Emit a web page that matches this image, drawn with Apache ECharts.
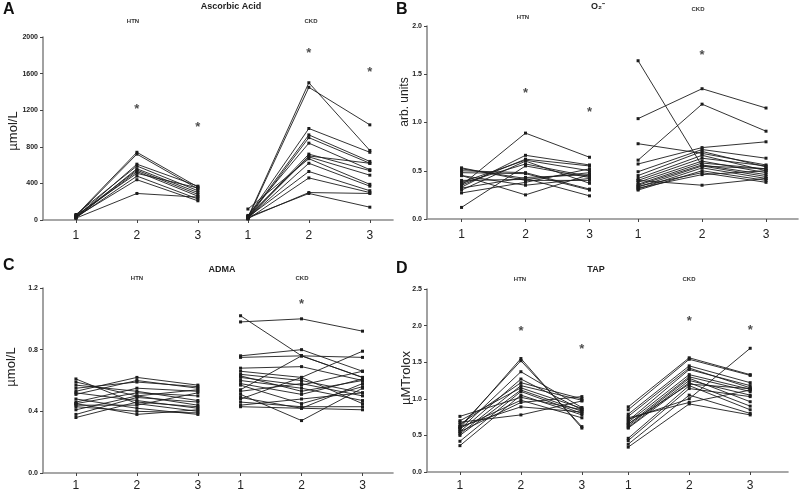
<!DOCTYPE html>
<html><head><meta charset="utf-8">
<script src="https://cdn.jsdelivr.net/npm/echarts@6/dist/echarts.min.js"></script>
<style>html,body{margin:0;padding:0;background:#fff}#c{width:799px;height:491px}</style>
</head><body><div id="c"></div>
<script>
// ---------- DATA ----------
const timeLabels = ['1', '2', '3'];
const groupNames = ['HTN', 'CKD'];

// Panel A: Ascorbic Acid (µmol/L), each row = one subject at times 1,2,3
const ascorbicHTN = [
  [50,740,360],[40,720,340],[30,610,370],[60,590,320],[20,560,300],[40,545,280],
  [30,530,260],[50,510,350],[25,480,230],[35,440,210],[20,290,250]
];
const ascorbicCKD = [
  [30,1500,760],[20,1450,1040],[40,1000,740],[30,930,640],[20,900,620],[50,840,550],
  [30,720,540],[20,700,620],[40,690,490],[120,670,390],[20,620,370],[30,530,320],
  [10,460,300],[20,300,290],[30,290,140]
];
const ascorbicStarsHTN = [null,1240,1040];
const ascorbicStarsCKD = [null,1850,1650];

// Panel B: O2- (arb. units)
const o2HTN = [
  [0.12,0.55,0.43],[0.35,0.89,0.64],[0.33,0.66,0.56],[0.35,0.62,0.55],[0.38,0.61,0.50],
  [0.30,0.60,0.37],[0.45,0.25,0.46],[0.50,0.48,0.31],[0.48,0.47,0.30],[0.52,0.42,0.24],
  [0.40,0.41,0.48],[0.27,0.38,0.52],[0.45,0.35,0.42],[0.32,0.43,0.46],[0.37,0.57,0.44],
  [0.53,0.40,0.40]
];
const o2CKD = [
  [1.64,0.55,0.52],[1.04,1.35,1.15],[0.61,1.19,0.91],[0.57,0.74,0.80],[0.78,0.68,0.56],
  [0.49,0.72,0.63],[0.45,0.70,0.54],[0.42,0.66,0.50],[0.40,0.63,0.55],[0.38,0.60,0.48],
  [0.36,0.58,0.52],[0.35,0.56,0.46],[0.33,0.55,0.44],[0.31,0.53,0.42],[0.30,0.50,0.40],
  [0.34,0.48,0.38],[0.32,0.46,0.50],[0.40,0.35,0.42]
];
const o2StarsHTN = [null,1.33,1.14];
const o2StarsCKD = [null,1.73,null];

// Panel C: ADMA (µmol/L)
const admaHTN = [
  [0.61,0.45,0.40],[0.59,0.50,0.44],[0.57,0.53,0.47],[0.55,0.59,0.56],[0.53,0.62,0.57],
  [0.52,0.47,0.42],[0.51,0.60,0.55],[0.48,0.42,0.38],[0.46,0.55,0.53],[0.45,0.52,0.50],
  [0.44,0.44,0.52],[0.43,0.40,0.39],[0.41,0.50,0.54],[0.38,0.49,0.46],[0.36,0.46,0.43],
  [0.45,0.38,0.41]
];
const admaCKD = [
  [0.98,1.00,0.92],[1.02,0.76,0.62],[0.76,0.80,0.66],[0.75,0.76,0.75],[0.68,0.69,0.60],
  [0.66,0.62,0.79],[0.64,0.60,0.52],[0.62,0.57,0.66],[0.60,0.55,0.47],[0.58,0.51,0.61],
  [0.57,0.45,0.56],[0.54,0.76,0.62],[0.51,0.34,0.55],[0.49,0.42,0.58],[0.48,0.62,0.45],
  [0.46,0.43,0.43],[0.43,0.42,0.41],[0.53,0.58,0.50],[0.63,0.53,0.60],[0.44,0.48,0.52]
];
const admaStarsHTN = [null,null,null];
const admaStarsCKD = [null,1.11,null];

// Panel D: TAP (µMTrolox)
const tapHTN = [
  [0.60,1.55,0.60],[0.62,1.52,0.62],[0.58,1.37,0.88],[0.55,1.27,0.85],[0.65,1.22,1.00],
  [0.52,1.18,0.98],[0.70,1.15,0.87],[0.50,1.12,0.83],[0.42,1.10,0.80],[0.36,1.05,0.78],
  [0.76,1.02,0.85],[0.60,0.98,0.74],[0.55,0.95,1.03],[0.62,0.89,0.82],[0.68,0.78,0.97]
];
const tapCKD = [
  [0.72,1.00,1.69],[0.89,1.56,1.33],[0.85,1.54,1.32],[0.79,1.45,1.22],[0.76,1.42,1.15],
  [0.70,1.40,1.18],[0.68,1.33,1.13],[0.65,1.30,1.10],[0.63,1.28,0.96],[0.61,1.25,1.05],
  [0.60,1.22,0.90],[0.46,1.18,0.85],[0.43,1.14,1.03],[0.38,1.05,0.80],[0.34,0.93,0.78],
  [0.74,0.95,1.12],[0.66,1.20,1.14]
];
const tapStarsHTN = [null,1.96,1.71];
const tapStarsCKD = [null,2.10,1.98];

// ---------- LAYOUT ----------
const panels = [
  {letter:'A', title:'Ascorbic Acid', yName:'µmol/L', htn:ascorbicHTN, ckd:ascorbicCKD,
   sH:ascorbicStarsHTN, sC:ascorbicStarsCKD, yMax:2000, yInt:400, dec:0,
   grid:{left:43, top:37, width:350, height:183}, ckdStart:3.82, xMax:6.2, xMargin:10,
   letterXY:[3,2], titleXY:[231,7], htnXY:[133,21], ckdXY:[311,21], yNameXY:[13,131], yNameSize:13},
  {letter:'B', title:'O₂⁻', yName:'arb. units', htn:o2HTN, ckd:o2CKD,
   sH:o2StarsHTN, sC:o2StarsCKD, yMax:2, yInt:0.5, dec:1,
   grid:{left:427, top:26, width:371, height:193}, ckdStart:3.76, xMax:6.26, xMargin:10,
   letterXY:[396,2], titleXY:[598,7], htnXY:[523,17], ckdXY:[698,9], yNameXY:[405,102], yNameSize:12},
  {letter:'C', title:'ADMA', yName:'µmol/L', htn:admaHTN, ckd:admaCKD,
   sH:admaStarsHTN, sC:admaStarsCKD, yMax:1.2, yInt:0.4, dec:1,
   grid:{left:43, top:288, width:350, height:185}, ckdStart:3.70, xMax:6.2, xMargin:7,
   letterXY:[3,258], titleXY:[222,270], htnXY:[137,278], ckdXY:[302,278], yNameXY:[11,367], yNameSize:13},
  {letter:'D', title:'TAP', yName:'µMTrolox', htn:tapHTN, ckd:tapCKD,
   sH:tapStarsHTN, sC:tapStarsCKD, yMax:2.5, yInt:0.5, dec:1,
   grid:{left:427, top:289, width:361, height:183}, ckdStart:3.76, xMax:6.38, xMargin:8,
   letterXY:[396,261], titleXY:[596,270], htnXY:[520,279], ckdXY:[689,279], yNameXY:[406,378], yNameSize:13}
];

const FONT = '"Liberation Sans", Arial, sans-serif';
const INK = '#1c1c1c';
const AXIS = '#8a8a8a';

const grids = [], xAxes = [], yAxes = [], series = [], graphics = [];

panels.forEach((p, i) => {
  const xsH = [1, 2, 3];
  const xsC = [p.ckdStart, p.ckdStart + 1, p.ckdStart + 2];
  const allX = xsH.concat(xsC);
  grids.push(Object.assign({containLabel:false, outerBoundsMode:'none'}, p.grid));
  xAxes.push({
    type:'value', gridIndex:i, min:0.46, max:p.xMax,
    axisLine:{show:true, onZero:false, lineStyle:{color:AXIS, width:1.6}},
    axisTick:{show:true, customValues:allX, length:3, inside:false, lineStyle:{color:'#444', width:1}},
    axisLabel:{show:true, customValues:allX, margin:p.xMargin, fontSize:12, color:'#222', fontFamily:FONT,
      formatter: v => { let best = 0, d = 1e9; allX.forEach((x,k)=>{ if (Math.abs(x-v) < d) { d = Math.abs(x-v); best = k; } }); return timeLabels[best % 3]; }},
    splitLine:{show:false}
  });
  yAxes.push({
    type:'value', gridIndex:i, min:0, max:p.yMax, interval:p.yInt,
    axisLine:{show:true, lineStyle:{color:AXIS, width:1.6}},
    axisTick:{show:true, length:3, lineStyle:{color:'#444'}},
    axisLabel:{show:true, fontSize:7, fontWeight:'bold', color:'#222', fontFamily:FONT, margin:5,
      formatter: v => v.toFixed(p.dec)},
    splitLine:{show:false}
  });
  [[p.htn, xsH], [p.ckd, xsC]].forEach(([rows, xs]) => {
    rows.forEach(r => {
      series.push({
        type:'line', xAxisIndex:i, yAxisIndex:i, silent:true, animation:false,
        data: r.map((v, k) => [xs[k], v]),
        symbol:'rect', symbolSize:3, showSymbol:true,
        lineStyle:{color:INK, width:0.9}, itemStyle:{color:INK}, z:2
      });
    });
  });
  const stars = [];
  p.sH.forEach((v,k) => { if (v != null) stars.push([xsH[k], v]); });
  p.sC.forEach((v,k) => { if (v != null) stars.push([xsC[k], v]); });
  series.push({
    type:'scatter', xAxisIndex:i, yAxisIndex:i, silent:true, animation:false,
    data: stars, symbol:'circle', symbolSize:1, itemStyle:{color:'rgba(0,0,0,0)'},
    label:{show:true, position:'inside', formatter:'*', fontSize:13, fontWeight:'bold', color:INK,
      fontFamily:FONT, offset:[0,3]}, z:3
  });
  graphics.push({type:'text', x:p.letterXY[0], y:p.letterXY[1],
    style:{text:p.letter, font:'bold 16px ' + FONT, fill:'#111', textAlign:'left', textVerticalAlign:'top'}});
  graphics.push({type:'text', x:p.titleXY[0], y:p.titleXY[1],
    style:{text:p.title, font:'bold 9px ' + FONT, fill:'#222', textAlign:'center', textVerticalAlign:'middle'}});
  graphics.push({type:'text', x:p.htnXY[0], y:p.htnXY[1],
    style:{text:groupNames[0], font:'bold 6px ' + FONT, fill:'#333', textAlign:'center', textVerticalAlign:'middle'}});
  graphics.push({type:'text', x:p.ckdXY[0], y:p.ckdXY[1],
    style:{text:groupNames[1], font:'bold 6px ' + FONT, fill:'#333', textAlign:'center', textVerticalAlign:'middle'}});
  graphics.push({type:'text', x:p.yNameXY[0], y:p.yNameXY[1], rotation:Math.PI/2,
    style:{text:p.yName, font:p.yNameSize + 'px ' + FONT, fill:'#222', textAlign:'center', textVerticalAlign:'middle'}});
});

const chart = echarts.init(document.getElementById('c'), null, {renderer:'canvas'});
chart.setOption({
  backgroundColor:'#fff', animation:false,
  grid:grids, xAxis:xAxes, yAxis:yAxes, series:series,
  graphic:graphics
});
</script>
</body></html>
